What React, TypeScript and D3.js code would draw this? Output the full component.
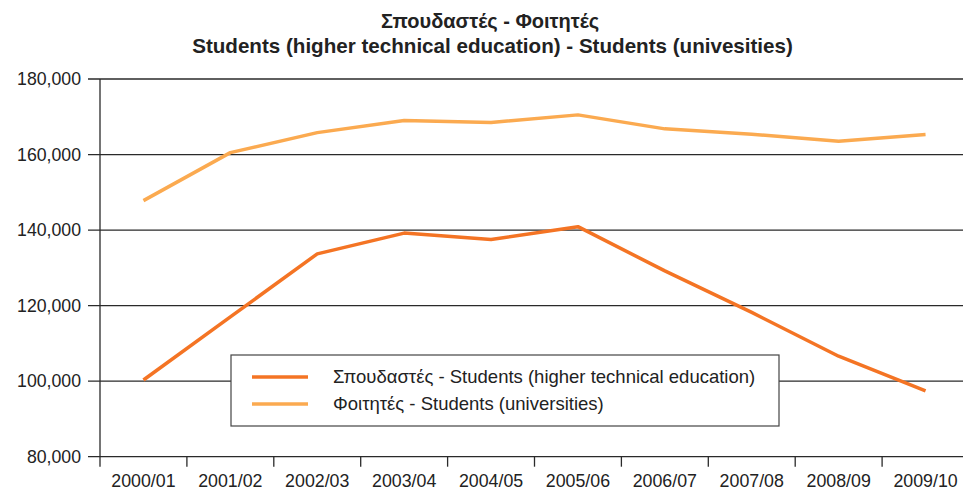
import React from "react";
import * as d3 from "d3";

const years = ["2000/01", "2001/02", "2002/03", "2003/04", "2004/05", "2005/06", "2006/07", "2007/08", "2008/09", "2009/10"];
const technical = [100300, 117000, 133700, 139200, 137500, 140900, 129200, 118200, 106600, 97400];
const universities = [147800, 160500, 165800, 169000, 168500, 170500, 166800, 165400, 163500, 165300];
const yTicks = [80000, 100000, 120000, 140000, 160000, 180000];

const titleGr = "Σπουδαστές - Φοιτητές";
const titleEn = "Students (higher technical education) - Students (univesities)";
const legendTech = "Σπουδαστές - Students (higher technical education)";
const legendUni = "Φοιτητές - Students (universities)";

const techColor = "#f47424";
const uniColor = "#fbaa50";
const font = "'Liberation Sans', Arial, Helvetica, sans-serif";

const W = 963;
const H = 490;

export default function App() {
  const x = d3.scaleBand<string>().domain(years).range([100, 969]).padding(0);
  const y = d3.scaleLinear().domain([80000, 180000]).range([456.7, 79]);
  const cx = (d: string) => (x(d) ?? 0) + x.bandwidth() / 2;

  const line = d3
    .line<number>()
    .x((_, i) => cx(years[i]))
    .y((v) => y(v));

  const fmt = d3.format(",");

  return (
    <svg width={W} height={H} style={{ position: "absolute", left: 0, top: 0, background: "#fff" }} fontFamily={font}>
      {/* title */}
      <text x={490} y={28} textAnchor="middle" fontSize={20} fontWeight="bold" fill="#222">
        {titleGr}
      </text>
      <text x={492.5} y={53} textAnchor="middle" fontSize={20.6} fontWeight="bold" fill="#222">
        {titleEn}
      </text>

      {/* gridlines + y labels */}
      {yTicks.map((t) => (
        <g key={t}>
          <line x1={88} x2={W} y1={y(t)} y2={y(t)} stroke="#2a2a2a" strokeWidth={1.3} />
          <text x={81} y={y(t)} dy="0.35em" textAnchor="end" fontSize={17.7} fill="#222">
            {fmt(t)}
          </text>
        </g>
      ))}

      {/* y axis */}
      <line x1={100} x2={100} y1={y(180000)} y2={y(80000) + 10} stroke="#2a2a2a" strokeWidth={1.3} />

      {/* x ticks + labels */}
      {years.map((d, i) =>
        i === 0 ? null : (
          <line key={"t" + d} x1={x(d)} x2={x(d)} y1={y(80000)} y2={y(80000) + 10} stroke="#2a2a2a" strokeWidth={1.3} />
        )
      )}
      {years.map((d) => (
        <text key={d} x={cx(d)} y={487} textAnchor="middle" fontSize={17.8} fill="#222">
          {d}
        </text>
      ))}

      {/* legend */}
      <rect x={231} y={355} width={548} height={71} fill="#fff" stroke="#444" strokeWidth={1.2} />
      <line x1={252} x2={308} y1={377} y2={377} stroke={techColor} strokeWidth={3.5} />
      <line x1={252} x2={308} y1={404} y2={404} stroke={uniColor} strokeWidth={3.5} />
      <text x={333} y={377} dy="0.35em" fontSize={18.5} fill="#222">
        {legendTech}
      </text>
      <text x={333} y={404} dy="0.35em" fontSize={18.5} fill="#222">
        {legendUni}
      </text>

      {/* series */}
      <path d={line(universities) ?? ""} fill="none" stroke={uniColor} strokeWidth={3.5} strokeLinejoin="round" />
      <path d={line(technical) ?? ""} fill="none" stroke={techColor} strokeWidth={3.5} strokeLinejoin="round" />
    </svg>
  );
}
